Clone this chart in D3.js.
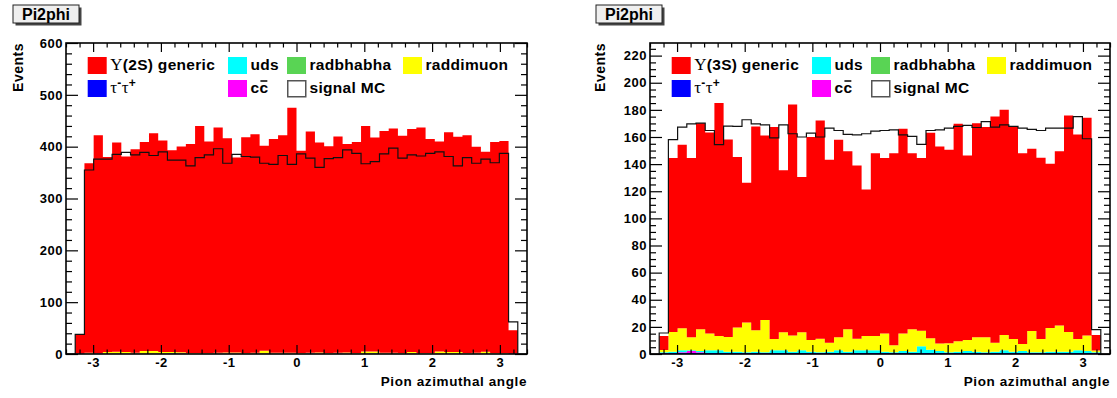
<!DOCTYPE html>
<html>
<head>
<meta charset="utf-8">
<script src="https://cdn.jsdelivr.net/npm/d3@7"></script>
<style>
  body { margin: 0; background: #fff; }
  text { font-family: "Liberation Sans", Arial, Helvetica, sans-serif; font-weight: bold; fill: #000; }
</style>
</head>
<body>
<svg id="chart" width="1117" height="398"></svg>
<script>
// histogram binning (same for both pads)
const xLow = -3.4, xHigh = 3.4, nBins = 50;
const xTickLabels = [-3, -2, -1, 0, 1, 2, 3];
const yTicks2S = [0, 100, 200, 300, 400, 500, 600];
const yTicks3S = [0, 20, 40, 60, 80, 100, 120, 140, 160, 180, 200, 220];

// Upsilon(2S) pad, events per bin
const generic2S = [0, 36, 365.5, 420.5, 376, 403.5, 377, 392.5, 403, 420, 408, 389, 397, 403, 438, 408, 434.5, 413, 376, 416,
  421.5, 395.5, 412.5, 419.5, 472.5, 390, 427, 405, 399, 417, 402, 407, 435, 412.5, 427.5, 432.5, 419, 430, 435, 413,
  405, 424, 415, 420, 397.5, 385.5, 407, 409, 45, 0];
const uds2S = [0, 0, 0, 0, 0, 0, 0, 0, 0, 0, 0, 0.5, 0, 0, 0, 0, 0, 0, 0, 0,
  0, 0, 0, 0, 0, 0, 0.5, 0, 0, 0, 0, 0, 0, 0.5, 0, 0, 0, 0, 0, 0,
  0, 0, 0, 0, 0, 0, 0, 0, 0, 0];
const radbhabha2S = [0, 0, 0, 0, 0, 0, 0, 0, 0, 0, 0, 0.5, 0.5, 0, 0, 0, 0, 0, 0, 0,
  0, 0, 0, 0, 0, 0, 0, 0, 0, 0.5, 0, 0, 0, 0, 0, 0, 0, 0, 0, 0,
  0, 0, 0, 0, 0, 0, 0, 0, 0, 0];
const raddimuon2S = [0, 0, 1.5, 0.5, 3, 3.5, 3, 1.5, 5, 5, 3, 2, 2, 1, 1, 1, 1.5, 2, 2, 1,
  1.5, 5.5, 1.5, 1.5, 1.5, 1, 1, 2, 1, 1, 2, 1, 4, 3.5, 1.5, 1.5, 1, 3, 1, 1,
  4, 3, 3, 1, 1.5, 3.5, 1, 1, 0, 0];
const tautau2S = [0, 1, 1, 1, 1, 1, 1, 1, 1, 1, 1, 1, 1, 1, 1, 1, 1, 1, 1, 1,
  1, 1, 1, 1, 1, 1, 1, 1, 1, 1, 1, 1, 1, 1, 1, 1, 1, 1, 1, 1,
  1, 1, 1, 1, 1, 1, 1, 1, 1, 0];
const ccbar2S = [0, 0, 0, 0, 0, 0, 0, 0, 0, 0, 0, 0, 0, 0, 0, 0, 0, 0, 0, 0,
  0, 0, 0, 0, 0, 0, 0, 0, 0, 0, 0, 0, 0, 0, 0, 0, 0, 0, 0, 0,
  0, 0, 0, 0, 0, 0, 0, 0, 0, 0];
const signal2S = [0, 38, 355, 376, 376, 385, 389, 384, 389, 383, 390, 374, 374, 363, 379, 384, 396, 368, 385, 381,
  380, 368, 366, 383, 366, 386, 378, 360, 377, 379, 394, 387, 367, 371, 386, 397, 378, 384, 382, 387,
  390, 381, 363, 379, 368, 376, 369, 387, 62, 0];

// Upsilon(3S) pad
const generic3S = [0, 10.2, 128.4, 135.4, 132.3, 152, 148.2, 171.7, 145.7, 125.7, 103.1, 150.3, 136.1, 156.3, 119.3, 170.4, 114.4, 149.7, 161, 135,
  145.7, 131.2, 127.8, 108, 134.7, 129.3, 141.6, 150.8, 129.8, 127.3, 151.4, 145.2, 142.6, 160.3, 136.1, 157.9, 155, 166.8, 166, 157,
  140.7, 134.3, 133.7, 121.1, 128.3, 159.7, 150.9, 160.6, 11.5, 0];
const uds3S = [0, 0.5, 1, 1.5, 0.5, 1, 2, 2, 1, 1, 0.5, 1, 0.5, 2, 2, 1, 2, 1, 0.5, 1,
  2, 1, 2, 2, 2, 1, 0.5, 1.5, 1, 5, 2.5, 1.5, 0.5, 1, 1.5, 1, 0.5, 1, 2, 1,
  1.5, 0.5, 0.5, 1, 1, 1, 2, 1.5, 0.5, 0];
const radbhabha3S = [0, 0, 0, 0, 0, 0, 0, 0, 0, 0, 0, 0, 0, 0, 0, 0, 0, 0, 0, 0,
  0, 0, 0, 0, 0, 0, 0, 0, 0, 0, 0, 0, 0, 0, 0, 0, 0, 0, 0, 0,
  0, 0, 0, 0, 0, 0, 0, 0, 0, 0];
const raddimuon3S = [0, 1.8, 14.5, 16.2, 9.6, 16, 12.5, 10.6, 10.8, 17.8, 22, 15.8, 23.8, 8.3, 13.4, 11.9, 13.4, 8.6, 10, 6.6,
  9.6, 16.5, 8.5, 10.5, 10.6, 13.5, 5.2, 13, 16.5, 11.5, 8.5, 5.6, 6.8, 7.7, 8.1, 10.6, 11.1, 6.6, 11.3, 9.3,
  5.1, 15.8, 9.8, 17.5, 19.4, 14.5, 8.3, 11.4, 1.3, 0];
const tautau3S = [0, 0.7, 0.7, 0.7, 0.7, 0.7, 0.7, 0.7, 0.7, 0.7, 0.7, 0.7, 0.7, 0.7, 0.7, 0.7, 0.7, 0.7, 0.7, 0.7,
  0.7, 0.7, 0.7, 0.7, 0.7, 0.7, 0.7, 0.7, 0.7, 0.7, 0.7, 0.7, 0.7, 0.7, 0.7, 0.7, 0.7, 0.7, 0.7, 0.7,
  0.7, 0.7, 0.7, 0.7, 0.7, 0.7, 0.7, 0.7, 0.7, 0];
const ccbar3S = [0, 0, 0, 0.5, 1.5, 0.5, 0, 0, 0, 0, 0, 0, 0, 0, 0, 0, 0, 0, 0, 0,
  0, 0, 0, 0, 0, 0, 0, 0, 0, 0, 0, 0, 0, 0, 0, 0, 0, 0, 0, 0,
  0, 0, 0, 0, 0, 0, 0, 0, 0, 0];
const signal3S = [0, 15.5, 158, 167.3, 169.7, 170.2, 164.8, 154.3, 168, 167.8, 172.7, 169.7, 169, 159.4, 169, 162.4, 160, 162.8, 160, 166.5,
  164.8, 161.9, 161.6, 162.4, 164.3, 164.8, 165.3, 161.6, 160.4, 154.5, 164.8, 165.3, 166.5, 167.8, 168.5, 167, 171.4, 167.3, 169, 167.8,
  166.5, 165.6, 164.8, 166.5, 166.5, 166.5, 175, 158.7, 18, 0];

const colors = {
    generic: '#ff0000', uds: '#00ffff', radbhabha: '#59d454',
    raddimuon: '#ffff00', tautau: '#0000ff', ccbar: '#ff00ff'
};

const svg = d3.select('#chart');

// legend label pieces: serif greek, superscripts, overline
function legendLabel(sel, pieces) {
    const t = sel.append('text').attr('font-size', 15.5).attr('letter-spacing', 0.3);
    let shift = 0;
    pieces.forEach(pc => {
        const ts = t.append('tspan').text(pc.t);
        if (pc.serif) ts.style('font-family', '"Liberation Serif", "Times New Roman", serif')
            .style('font-weight', 'normal').attr('font-size', 17);
        if (pc.sup) { ts.attr('font-size', 12).attr('dy', -6 - shift); shift = -6; }
        else if (shift) { ts.attr('dy', -shift); shift = 0; }
        if (pc.bar) ts.classed('bar', true);
    });
    t.selectAll('tspan.bar').each(function () {
        const before = d3.select(this.parentNode).selectAll('tspan').nodes();
        let x0 = 0;
        for (const n of before) { if (n === this) break; x0 += n.getComputedTextLength(); }
        const w = this.getComputedTextLength();
        sel.append('line').attr('x1', x0 + 1).attr('x2', x0 + w - 1)
            .attr('y1', -12).attr('y2', -12).attr('stroke', '#000').attr('stroke-width', 1.5);
    });
}

function drawPad(p) {
    const x = d3.scaleLinear().domain([xLow, xHigh]).range([p.left, p.right]);
    const y = d3.scaleLinear().domain([0, p.yMax]).range([p.bottom, p.top]);
    const g = svg.append('g');

    const keys = ['tautau', 'ccbar', 'uds', 'radbhabha', 'raddimuon', 'generic'];
    const rows = d3.range(nBins).map(i => {
        const r = { x: xLow + i * (xHigh - xLow) / nBins, signal: p.signal[i] };
        keys.forEach(k => r[k] = p.series[k][i]);
        return r;
    });
    rows.push({ ...rows[nBins - 1], x: xHigh });

    svg.append('clipPath').attr('id', 'clip' + p.id)
        .append('rect').attr('x', p.left).attr('y', p.top)
        .attr('width', p.right - p.left).attr('height', p.bottom - p.top);
    const plot = g.append('g').attr('clip-path', `url(#clip${p.id})`);

    const stacked = d3.stack().keys(keys)(rows);
    const area = d3.area().curve(d3.curveStepAfter)
        .x(d => x(d.data.x)).y0(d => y(d[0])).y1(d => y(d[1]));
    plot.selectAll('.layer').data(stacked).join('path')
        .attr('class', 'layer')
        .attr('d', area)
        .attr('fill', d => colors[d.key]);

    const line = d3.line().curve(d3.curveStepAfter)
        .x(d => x(d.x)).y(d => y(d.signal));
    plot.append('path').datum(rows)
        .attr('d', line)
        .attr('fill', 'none')
        .attr('stroke', '#111')
        .attr('stroke-width', 1.2);

    // axes, ticks inward as in ROOT
    const xMinor = d3.range(-17, 18).map(i => i / 5).filter(v => Math.abs(v - Math.round(v)) > 1e-6);
    const yMinor = d3.range(0, p.yMax, p.minorStep).filter(v => v % p.majorStep !== 0);
    const noDomain = s => s.select('.domain').remove();
    const tickStyle = s => s.selectAll('line').attr('stroke', '#000').attr('stroke-width', 1.2);

    const ax = [
        [d3.axisBottom(x).tickValues(xTickLabels).tickSize(-9).tickPadding(4).tickFormat(d => String(d)), 0, p.bottom],
        [d3.axisBottom(x).tickValues(xMinor).tickSize(-4.5).tickFormat(''), 0, p.bottom],
        [d3.axisTop(x).tickValues(xTickLabels).tickSize(-9).tickFormat(''), 0, p.top],
        [d3.axisTop(x).tickValues(xMinor).tickSize(-4.5).tickFormat(''), 0, p.top],
        [d3.axisLeft(y).tickValues(p.yTicks).tickSize(-12).tickPadding(3).tickFormat(d => String(d)), p.left, 0],
        [d3.axisLeft(y).tickValues(yMinor).tickSize(-6).tickFormat(''), p.left, 0],
        [d3.axisRight(y).tickValues(p.yTicks).tickSize(-12).tickFormat(''), p.right, 0],
        [d3.axisRight(y).tickValues(yMinor).tickSize(-6).tickFormat(''), p.right, 0]
    ];
    ax.forEach(([a, tx, ty]) => {
        g.append('g').attr('transform', `translate(${tx},${ty})`)
            .call(a).call(noDomain).call(tickStyle)
            .attr('font-family', null).attr('font-size', null)
            .selectAll('text').attr('font-size', 13).attr('letter-spacing', 0.5).attr('fill', '#000');
    });

    g.append('rect')
        .attr('x', p.left).attr('y', p.top)
        .attr('width', p.right - p.left).attr('height', p.bottom - p.top)
        .attr('fill', 'none').attr('stroke', '#000').attr('stroke-width', 1.6);

    g.append('text')
        .attr('x', p.right).attr('y', 386)
        .attr('text-anchor', 'end').attr('font-size', 13.5).attr('letter-spacing', 0.6)
        .text('Pion azimuthal angle');

    g.append('text')
        .attr('transform', `translate(${p.eventsX},${p.top}) rotate(-90)`)
        .attr('text-anchor', 'end').attr('font-size', 14).attr('letter-spacing', 0.5)
        .text('Events');

    // title pave with shadow
    g.append('rect').attr('x', p.boxX + 2.5).attr('y', 7.5).attr('width', 66).attr('height', 18).attr('fill', '#444');
    g.append('rect').attr('x', p.boxX).attr('y', 5).attr('width', 66).attr('height', 18)
        .attr('fill', '#efefef').attr('stroke', '#222').attr('stroke-width', 1);
    g.append('text').attr('x', p.boxX + 33).attr('y', 20).attr('text-anchor', 'middle')
        .attr('font-size', 16).text('Pi2phi');

    // legend
    const colX = [21.7, 162, 221, 337];
    const rowY = [57, 80];
    const entries = [
        { key: 'generic', col: 0, row: 0, label: [{ t: 'Υ', serif: 1 }, { t: p.genericLabel }] },
        { key: 'uds', col: 1, row: 0, label: [{ t: 'uds' }] },
        { key: 'radbhabha', col: 2, row: 0, label: [{ t: 'radbhabha' }] },
        { key: 'raddimuon', col: 3, row: 0, label: [{ t: 'raddimuon' }] },
        { key: 'tautau', col: 0, row: 1, label: [{ t: 'τ', serif: 1 }, { t: '-', sup: 1 }, { t: 'τ', serif: 1 }, { t: '+', sup: 1 }] },
        { key: 'ccbar', col: 1, row: 1, label: [{ t: 'c' }, { t: 'c', bar: 1 }] },
        { key: 'signal', col: 2, row: 1, label: [{ t: 'signal MC' }] }
    ];
    entries.forEach(e => {
        const lg = g.append('g').attr('transform', `translate(${p.left + colX[e.col]},${rowY[e.row]})`);
        if (e.key === 'signal') {
            lg.append('rect').attr('x', 0.75).attr('y', 0.75).attr('width', 18).attr('height', 16)
                .attr('fill', '#fff').attr('stroke', '#555').attr('stroke-width', 1.5);
        } else {
            lg.append('rect').attr('width', 19).attr('height', 17).attr('fill', colors[e.key]);
        }
        const tg = lg.append('g').attr('transform', 'translate(22.5,13)');
        legendLabel(tg, e.label);
    });
}

drawPad({
    id: 'a', left: 66, right: 527, top: 43, bottom: 354,
    yMax: 600, yTicks: yTicks2S, majorStep: 100, minorStep: 20,
    eventsX: 23, boxX: 13, genericLabel: '(2S) generic',
    series: { generic: generic2S, uds: uds2S, radbhabha: radbhabha2S, raddimuon: raddimuon2S, tautau: tautau2S, ccbar: ccbar2S },
    signal: signal2S
});
drawPad({
    id: 'b', left: 650, right: 1110, top: 43, bottom: 354,
    yMax: 229.3, yTicks: yTicks3S, majorStep: 20, minorStep: 5,
    eventsX: 605, boxX: 596, genericLabel: '(3S) generic',
    series: { generic: generic3S, uds: uds3S, radbhabha: radbhabha3S, raddimuon: raddimuon3S, tautau: tautau3S, ccbar: ccbar3S },
    signal: signal3S
});
</script>
</body>
</html>
